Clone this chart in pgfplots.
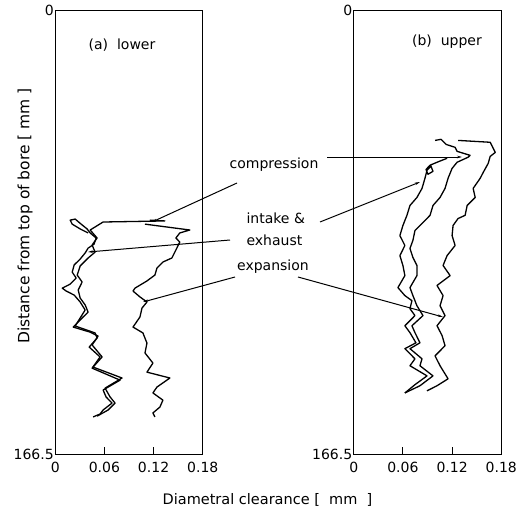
\documentclass[border=0pt]{standalone}
\usepackage{pgfplots}
\pgfplotsset{compat=1.18}
\usepackage{fontspec}
\setmainfont{DejaVu Sans}
\usetikzlibrary{arrows.meta}
\pgfplotsset{
  panel/.style={
    scale only axis, width=147.5pt, height=444pt,
    xmin=0, xmax=0.18, ymin=0, ymax=166.5, y dir=reverse,
    xtick={0,0.06,0.12,0.18}, xticklabels={0,0.06,0.12,0.18},
    ytick={0,166.5}, yticklabels={0,166.5},
    tick align=inside, xtick pos=left, xticklabel pos=left,
    ytick pos=left,
    major tick length=7pt,
    tick style={black, line width=1pt},
    axis line style={line width=1pt},
    /pgf/number format/assume math mode=true,
    tick label style={font=\fontsize{14}{16}\selectfont},
    xticklabel style={yshift=-5pt},
    yticklabel style={xshift=2pt},
    clip=false,
  },
  curve/.style={black, line width=1.3pt, line join=round, no marks},
  tickmark/.style={black, line width=1pt, no marks, forget plot},
}
\begin{document}
\begin{tikzpicture}[x=1pt,y=1pt]
\useasboundingbox (0,0) rectangle (517,-511);
% (a) lower
\begin{axis}[panel, at={(129pt,-232pt)}, anchor=center]
\addplot[tickmark] coordinates {(0.06,166.5)(0.06,163.8)};
\addplot[tickmark] coordinates {(0.12,166.5)(0.12,163.8)};
% expansion
\addplot[curve] coordinates {
(0.1095,80.3)(0.1642,82.5)(0.1520,83.6)(0.1472,85.5)(0.1520,87.0)(0.1472,90.0)
(0.1423,93.0)(0.1314,94.5)(0.1241,96.8)(0.1216,99.4)(0.1119,101.6)(0.0973,104.3)
(0.0949,105.4)(0.1034,107.6)(0.1119,109.5)(0.1058,111.8)(0.1034,115.1)(0.0949,118.9)
(0.1070,121.1)(0.1119,124.9)(0.1095,128.6)(0.1192,132.4)(0.1119,135.8)(0.1399,138.0)
(0.1241,141.4)(0.1192,143.6)(0.1314,146.3)(0.1277,148.9)(0.1192,151.1)(0.1216,152.6)};
% compression
\addplot[curve] coordinates {
(0.1155,78.8)(0.1338,79.1)(0.0584,79.5)(0.0426,82.5)(0.0511,85.5)(0.0450,88.1)
(0.0486,90.8)(0.0401,93.0)(0.0304,96.0)(0.0268,99.4)(0.0328,102.0)(0.0280,105.0)
(0.0304,108.0)(0.0365,110.6)(0.0401,113.3)(0.0328,115.5)(0.0219,118.9)(0.0426,120.8)
(0.0523,122.3)(0.0450,125.6)(0.0572,130.1)(0.0462,133.9)(0.0815,138.0)(0.0608,141.8)
(0.0669,145.1)(0.0730,147.4)(0.0645,150.0)(0.0511,152.3)};
% intake & exhaust
\addplot[curve] coordinates {
(0.0401,83.6)(0.0304,82.1)(0.0207,80.3)(0.0182,78.8)(0.0243,78.4)(0.0316,80.3)
(0.0389,82.1)(0.0426,83.6)(0.0499,85.5)(0.0474,87.8)(0.0401,89.3)(0.0365,91.1)
(0.0304,93.4)(0.0231,95.6)(0.0207,98.3)(0.0255,100.5)(0.0182,102.8)(0.0085,104.3)
(0.0134,105.4)(0.0231,106.9)(0.0304,109.5)(0.0365,112.5)(0.0304,115.5)(0.0243,118.5)
(0.0486,121.1)(0.0511,123.0)(0.0414,126.4)(0.0547,130.1)(0.0450,134.3)(0.0791,138.8)
(0.0584,142.5)(0.0620,145.1)(0.0693,147.4)(0.0584,150.0)(0.0547,151.5)(0.0462,152.6)};
\end{axis}
% (b) upper
\begin{axis}[panel, at={(427.5pt,-232pt)}, anchor=center]
\addplot[tickmark] coordinates {(0.06,166.5)(0.06,163.8)};
\addplot[tickmark] coordinates {(0.12,166.5)(0.12,163.8)};
% expansion
\addplot[curve] coordinates {
(0.1273,48.9)(0.1665,49.6)(0.1690,51.1)(0.1727,53.4)(0.1665,54.9)(0.1641,57.5)
(0.1580,60.9)(0.1543,63.1)(0.1457,66.9)(0.1482,70.3)(0.1384,73.3)(0.1359,77.0)
(0.1273,78.2)(0.1212,80.8)(0.1200,84.6)(0.1237,88.3)(0.1139,92.1)(0.1090,95.8)
(0.1176,99.6)(0.1016,103.3)(0.1090,107.1)(0.1053,110.9)(0.1114,114.6)(0.1016,118.4)
(0.1078,122.1)(0.1114,125.9)(0.0992,129.7)(0.1053,133.4)(0.1151,138.3)(0.1016,140.9)
(0.0894,142.8)};
% compression
\addplot[curve] coordinates {
(0.0992,48.9)(0.1065,48.5)(0.1127,50.4)(0.1237,51.5)(0.1261,53.0)(0.1420,54.5)
(0.1396,55.2)(0.1261,57.1)(0.1200,59.4)(0.1151,63.1)(0.1114,66.9)(0.1053,70.3)
(0.0967,73.3)(0.0931,77.0)(0.0845,79.7)(0.0747,82.7)(0.0722,86.4)(0.0686,89.4)
(0.0722,92.8)(0.0771,95.8)(0.0771,99.6)(0.0686,104.1)(0.0722,107.1)(0.0771,110.9)
(0.0845,114.6)(0.0710,118.4)(0.0747,121.0)(0.0808,124.8)(0.0686,127.0)(0.0833,130.8)
(0.0808,133.4)(0.0967,137.2)(0.0808,140.9)(0.0624,143.6)};
% intake & exhaust
\addplot[curve] coordinates {
(0.1139,55.6)(0.1016,57.1)(0.0931,58.2)(0.0882,59.8)(0.0906,61.6)(0.0967,60.5)
(0.0943,58.6)(0.0894,60.1)(0.0869,63.1)(0.0833,66.9)(0.0771,70.3)(0.0686,73.3)
(0.0649,77.0)(0.0600,80.8)(0.0563,84.6)(0.0624,88.3)(0.0563,92.1)(0.0600,95.8)
(0.0624,99.6)(0.0539,104.1)(0.0624,107.1)(0.0710,109.0)(0.0686,112.0)(0.0747,114.6)
(0.0624,118.4)(0.0686,121.0)(0.0759,124.8)(0.0624,127.0)(0.0747,130.8)(0.0686,133.4)
(0.0894,137.2)(0.0747,140.5)(0.0624,143.6)};
\end{axis}
% panel titles
\node[font=\fontsize{14}{16}\selectfont] at (122,-45) {(a)\ \ lower};
\node[font=\fontsize{14}{16}\selectfont] at (447,-42) {(b)\ \ upper};
% axis labels
\node[font=\fontsize{15.5}{17}\selectfont, rotate=90] at (25,-216) {Distance from top of bore [\ mm\ ]};
\node[font=\fontsize{14.5}{16}\selectfont] at (267.5,-500) {Diametral clearance [\ \ mm\ \ ]};
% annotations
\begin{scope}[font=\fontsize{14}{16}\selectfont]
\node at (274,-165) {compression};
\node[anchor=west] at (243,-218) {intake \&};
\node[anchor=west] at (243,-240) {exhaust};
\node at (273,-267) {expansion};
\end{scope}
\begin{scope}[line width=1pt, -{Stealth[length=5pt,width=2.5pt]}]
\draw (237,-183) -- (152,-222);
\draw (327,-157) -- (462,-157);
\draw (230,-240) -- (88,-252);
\draw (320,-222) -- (420,-182);
\draw (235,-277) -- (143,-302);
\draw (298,-277) -- (443,-317);
\end{scope}
\end{tikzpicture}
\end{document}
